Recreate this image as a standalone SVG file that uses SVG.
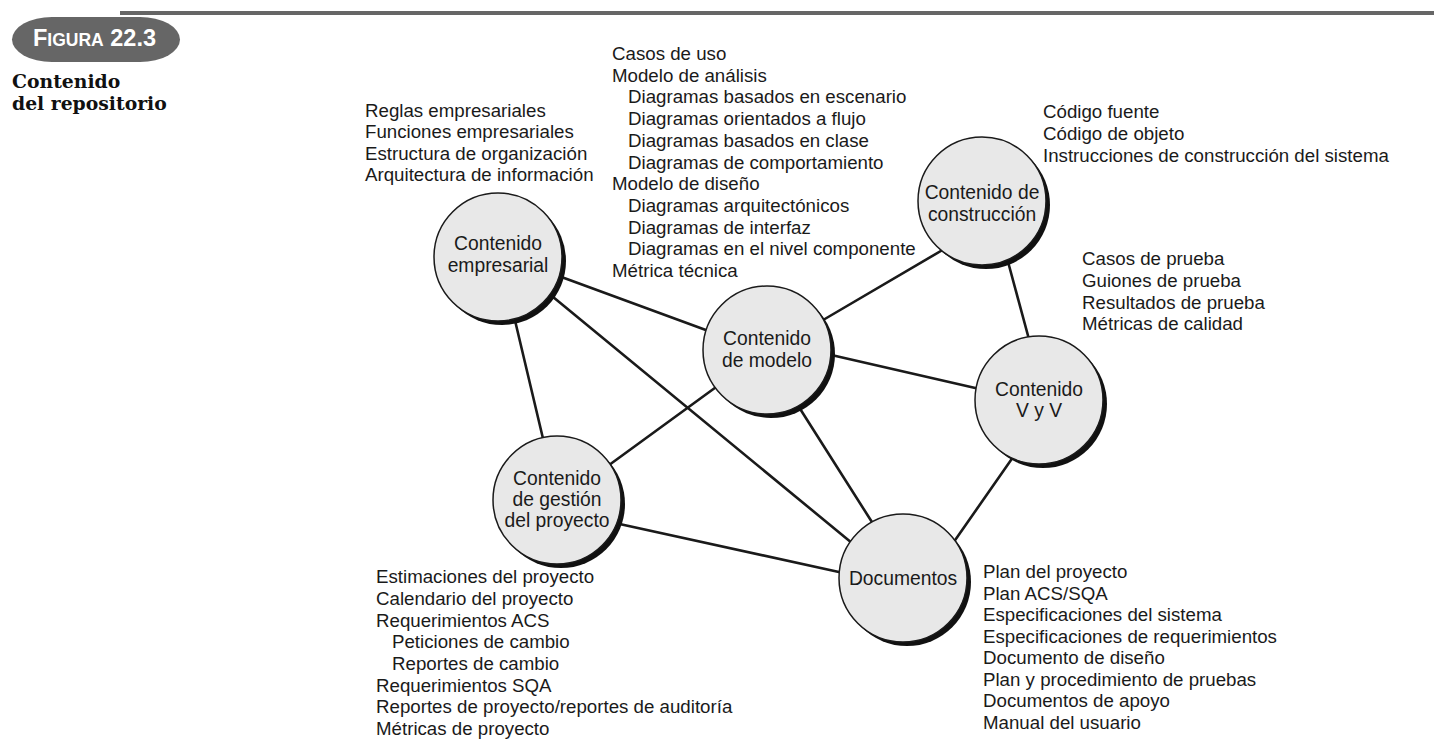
<svg xmlns="http://www.w3.org/2000/svg" width="1434" height="749" viewBox="0 0 1434 749">
<style>
.t{font-family:"Liberation Sans",Arial,sans-serif;font-size:18.7px;fill:#1a1a1a}
.lbl{font-family:"Liberation Sans",Arial,sans-serif;font-size:19.3px;fill:#1a1a1a;text-anchor:middle}
.node{fill:#e8e8e8;stroke:#1a1a1a;stroke-width:1.5}
.sh{fill:#111}
.conn line{stroke:#1a1a1a;stroke-width:2.6;stroke-linecap:round}
.sub{font-family:"DejaVu Serif",serif;font-weight:bold;font-size:18.8px;fill:#111}
.fig{font-family:"Liberation Sans",Arial,sans-serif;font-weight:bold;fill:#fff}
</style>
<rect width="1434" height="749" fill="#fff"/>
<g id="header">
<rect x="120" y="11" width="1314" height="4" fill="#666"/>
<rect x="12" y="17" width="168" height="45" rx="40" ry="22.5" fill="#666"/>
<text class="fig" x="33" y="46"><tspan font-size="23.5">F</tspan><tspan font-size="17.5">IGURA</tspan><tspan font-size="23.5"> 22.3</tspan></text>
<text class="sub" x="12" y="88">Contenido</text>
<text class="sub" x="12" y="110">del repositorio</text>
</g>
<g id="connectors" class="conn">
<line x1="556" y1="275" x2="714" y2="333"/>
<line x1="547" y1="292" x2="858" y2="548"/>
<line x1="513" y1="312" x2="545" y2="447"/>
<line x1="818" y1="323" x2="951" y2="245"/>
<line x1="827" y1="354" x2="984" y2="390"/>
<line x1="797" y1="404" x2="877" y2="530"/>
<line x1="723" y1="382" x2="605" y2="468"/>
<line x1="1007" y1="258" x2="1030" y2="343"/>
<line x1="1018" y1="450" x2="951" y2="546"/>
<line x1="615" y1="523" x2="848" y2="574"/>
</g>
<g id="n-empresarial">
<circle class="sh" cx="502" cy="261" r="64"/>
<circle class="node" cx="498" cy="257" r="64"/>
<text class="lbl" x="498" y="250">Contenido</text>
<text class="lbl" x="498" y="272">empresarial</text>
</g>
<g id="n-modelo">
<circle class="sh" cx="771" cy="354" r="64"/>
<circle class="node" cx="767" cy="350" r="64"/>
<text class="lbl" x="767" y="345">Contenido</text>
<text class="lbl" x="767" y="367">de modelo</text>
</g>
<g id="n-construccion">
<circle class="sh" cx="986" cy="205" r="64"/>
<circle class="node" cx="982" cy="201" r="64"/>
<text class="lbl" x="982" y="199">Contenido de</text>
<text class="lbl" x="982" y="221">construcción</text>
</g>
<g id="n-vyv">
<circle class="sh" cx="1043" cy="404" r="64"/>
<circle class="node" cx="1039" cy="400" r="64"/>
<text class="lbl" x="1039" y="396">Contenido</text>
<text class="lbl" x="1039" y="417">V y V</text>
</g>
<g id="n-gestion">
<circle class="sh" cx="561" cy="504" r="64"/>
<circle class="node" cx="557" cy="500" r="64"/>
<text class="lbl" x="557" y="485">Contenido</text>
<text class="lbl" x="557" y="506">de gestión</text>
<text class="lbl" x="557" y="527">del proyecto</text>
</g>
<g id="n-documentos">
<circle class="sh" cx="907" cy="582" r="64"/>
<circle class="node" cx="903" cy="578" r="64"/>
<text class="lbl" x="903" y="585">Documentos</text>
</g>
<g id="list-empresarial" class="t">
<text x="365" y="116.5">Reglas empresariales</text>
<text x="365" y="138">Funciones empresariales</text>
<text x="365" y="159.7">Estructura de organización</text>
<text x="365" y="181.3">Arquitectura de información</text>
</g>
<g id="list-modelo" class="t">
<text x="612" y="60">Casos de uso</text>
<text x="612" y="81.7">Modelo de análisis</text>
<text x="628" y="103.4">Diagramas basados en escenario</text>
<text x="628" y="125.1">Diagramas orientados a flujo</text>
<text x="628" y="146.8">Diagramas basados en clase</text>
<text x="628" y="168.5">Diagramas de comportamiento</text>
<text x="612" y="190.2">Modelo de diseño</text>
<text x="628" y="211.9">Diagramas arquitectónicos</text>
<text x="628" y="233.6">Diagramas de interfaz</text>
<text x="628" y="255.3">Diagramas en el nivel componente</text>
<text x="612" y="277">Métrica técnica</text>
</g>
<g id="list-construccion" class="t">
<text x="1043" y="118">Código fuente</text>
<text x="1043" y="140">Código de objeto</text>
<text x="1043" y="162">Instrucciones de construcción del sistema</text>
</g>
<g id="list-vyv" class="t">
<text x="1082" y="265">Casos de prueba</text>
<text x="1082" y="287">Guiones de prueba</text>
<text x="1082" y="308.5">Resultados de prueba</text>
<text x="1082" y="330">Métricas de calidad</text>
</g>
<g id="list-gestion" class="t">
<text x="376" y="583">Estimaciones del proyecto</text>
<text x="376" y="605">Calendario del proyecto</text>
<text x="376" y="627">Requerimientos ACS</text>
<text x="392" y="648">Peticiones de cambio</text>
<text x="392" y="670">Reportes de cambio</text>
<text x="376" y="692">Requerimientos SQA</text>
<text x="376" y="713">Reportes de proyecto/reportes de auditoría</text>
<text x="376" y="735">Métricas de proyecto</text>
</g>
<g id="list-documentos" class="t">
<text x="983" y="578">Plan del proyecto</text>
<text x="983" y="600">Plan ACS/SQA</text>
<text x="983" y="621">Especificaciones del sistema</text>
<text x="983" y="643">Especificaciones de requerimientos</text>
<text x="983" y="664">Documento de diseño</text>
<text x="983" y="686">Plan y procedimiento de pruebas</text>
<text x="983" y="707">Documentos de apoyo</text>
<text x="983" y="729">Manual del usuario</text>
</g>
</svg>
